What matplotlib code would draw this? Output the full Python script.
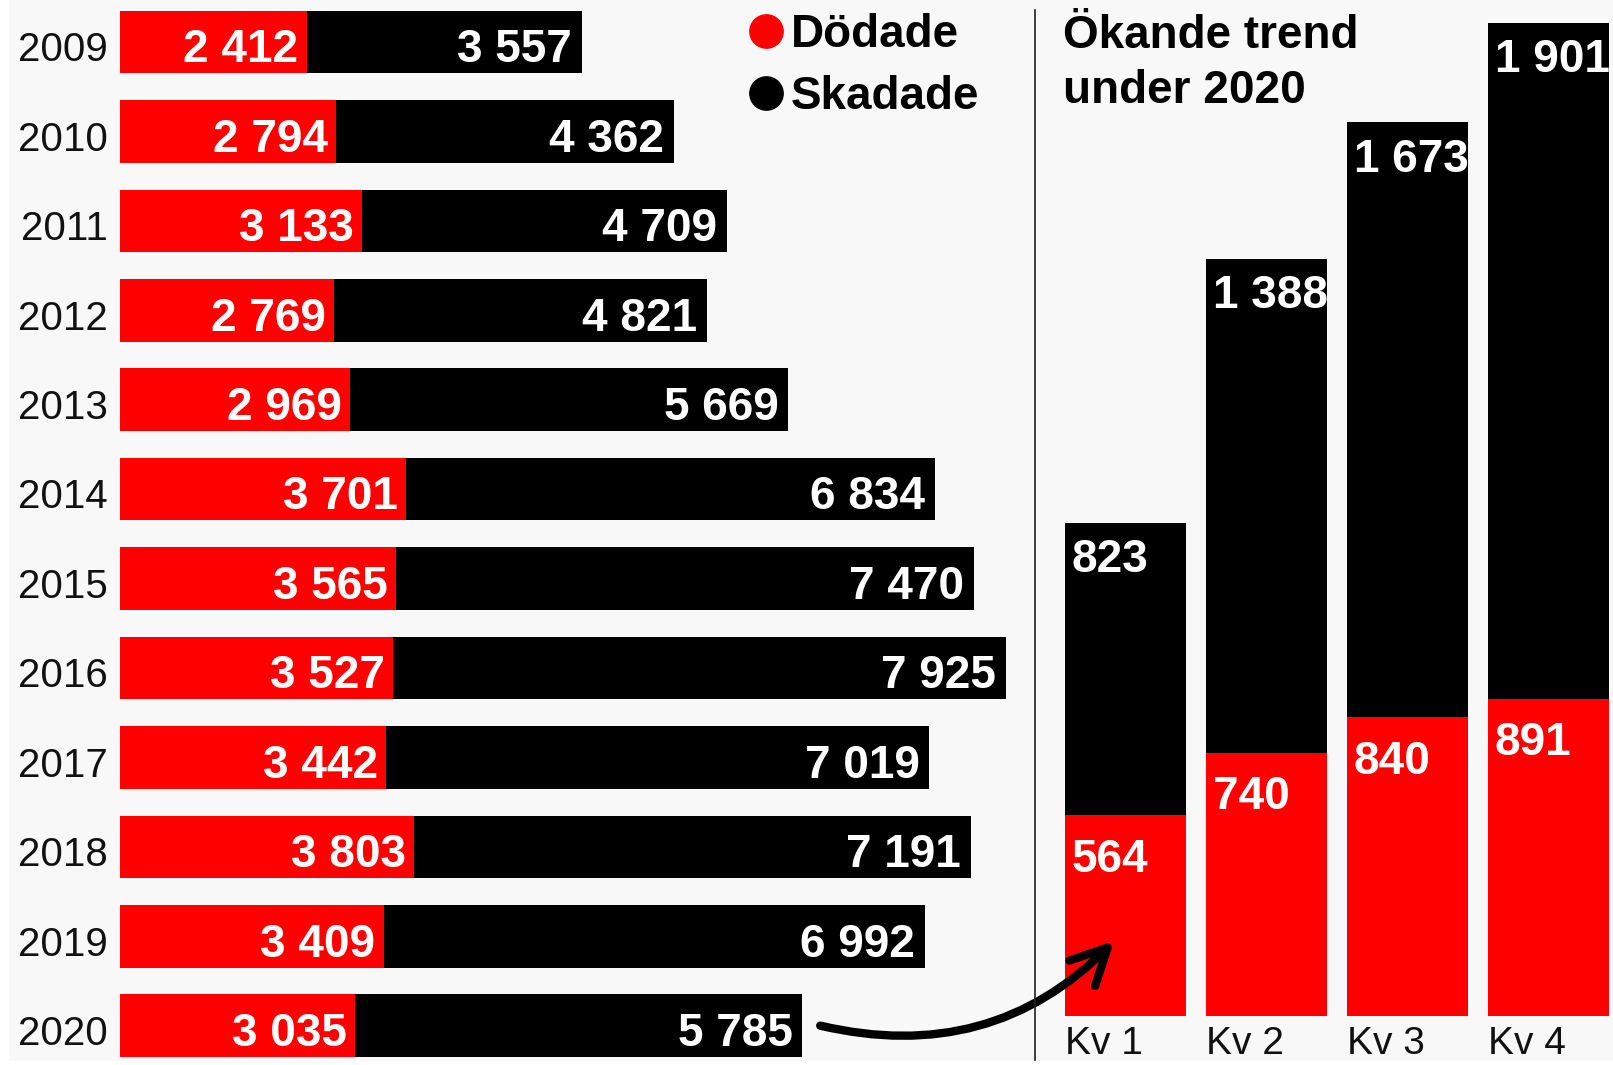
import matplotlib.pyplot as plt
from matplotlib.lines import Line2D
from matplotlib.patches import Rectangle

years = ["2009", "2010", "2011", "2012", "2013", "2014",
         "2015", "2016", "2017", "2018", "2019", "2020"]
dodade = [2412, 2794, 3133, 2769, 2969, 3701, 3565, 3527, 3442, 3803, 3409, 3035]
skadade = [3557, 4362, 4709, 4821, 5669, 6834, 7470, 7925, 7019, 7191, 6992, 5785]

quarters = ["Kv 1", "Kv 2", "Kv 3", "Kv 4"]
q_dodade = [564, 740, 840, 891]
q_skadade = [823, 1388, 1673, 1901]

RED = "#ff0000"
BLACK = "#000000"
BG = "#f8f8f8"
REG = ["Liberation Sans Narrow", "Liberation Sans", "DejaVu Sans"]
BOLD = ["Liberation Sans", "DejaVu Sans"]

W, H = 1613, 1065


def fmt(v):
    return f"{v:,}".replace(",", " ")


def fx(px):
    return px / W


def fy(px):
    # pixel from top -> figure fraction
    return 1 - px / H


fig = plt.figure(figsize=(W / 100, H / 100), dpi=100, facecolor="white")
fig.add_artist(Rectangle((fx(9), 0.004), 1, 1, transform=fig.transFigure,
                         facecolor=BG, edgecolor="none", zorder=-10))

# left panel: yearly stacked bars
ax = fig.add_axes([fx(120), 0, fx(1035 - 120), 1])
ax.set_facecolor("none")
ax.set_xlim(0, 11826)
ax.set_ylim(11.44, -0.47)
ax.axis("off")

ypos = range(len(years))
ax.barh(ypos, dodade, height=0.7, color=RED)
ax.barh(ypos, skadade, left=dodade, height=0.7, color=BLACK)

for i, (yr, d, s) in enumerate(zip(years, dodade, skadade)):
    ax.annotate(yr, (0, i), xytext=(-9, -6), textcoords="offset points",
                ha="right", va="center", fontsize=29, family=REG, color="#111111")
    ax.annotate(fmt(d), (d, i), xytext=(-6, -6), textcoords="offset points",
                ha="right", va="center", fontsize=33, family=BOLD,
                fontweight="bold", color="white")
    ax.annotate(fmt(s), (d + s, i), xytext=(-7, -6), textcoords="offset points",
                ha="right", va="center", fontsize=33, family=BOLD,
                fontweight="bold", color="white")

# legend
fig.add_artist(Line2D([fx(766)], [fy(31)], marker="o", markersize=24,
                      color=RED, transform=fig.transFigure))
fig.add_artist(Line2D([fx(766)], [fy(93)], marker="o", markersize=24,
                      color=BLACK, transform=fig.transFigure))
fig.text(fx(791), fy(35), "Dödade", ha="left", va="center", fontsize=33,
         family=BOLD, fontweight="bold")
fig.text(fx(791), fy(97), "Skadade", ha="left", va="center", fontsize=33,
         family=BOLD, fontweight="bold")

# separator
fig.add_artist(Line2D([fx(1035), fx(1035)], [fy(10), fy(1060)],
                      color="#222222", lw=1.2, transform=fig.transFigure))

# right panel: quarters 2020
ax2 = fig.add_axes([fx(1040), 1 - 1016 / H, fx(W - 1040), 1016 / H])
ax2.set_facecolor("none")
ax2.set_xlim(-0.606, 3.457)
ax2.set_ylim(0, 2856)
ax2.axis("off")

bw = 0.86
xq = range(len(quarters))
ax2.bar(xq, q_dodade, width=bw, color=RED)
ax2.bar(xq, q_skadade, bottom=q_dodade, width=bw, color=BLACK)

for i, (q, d, s) in enumerate(zip(quarters, q_dodade, q_skadade)):
    x0 = i - bw / 2
    ax2.annotate(q, (x0, 0), xytext=(0, -20), textcoords="offset points",
                 ha="left", va="center", fontsize=28, family=REG, color="#111111",
                 annotation_clip=False)
    ax2.annotate(fmt(d), (x0, d), xytext=(5, -32), textcoords="offset points",
                 ha="left", va="center", fontsize=33, family=BOLD,
                 fontweight="bold", color="white")
    ax2.annotate(fmt(s), (x0, d + s), xytext=(5, -27), textcoords="offset points",
                 ha="left", va="center", fontsize=33, family=BOLD,
                 fontweight="bold", color="white")

fig.text(fx(1063), fy(14), "Ökande trend\nunder 2020", ha="left", va="top",
         fontsize=33, family=BOLD, fontweight="bold", linespacing=1.33)

# arrow from 2020 bar to Kv 1
ax2.annotate("", xy=(-0.08, 211), xycoords=ax2.transData,
             xytext=(dodade[-1] + skadade[-1] + 230, 11), textcoords=ax.transData,
             arrowprops=dict(arrowstyle="->,head_length=2.6,head_width=1.3",
                             lw=6, color=BLACK, capstyle="round",
                             connectionstyle="arc3,rad=0.28",
                             shrinkA=0, shrinkB=0),
             annotation_clip=False)

fig.savefig("out.png", dpi=100, facecolor=fig.get_facecolor())
